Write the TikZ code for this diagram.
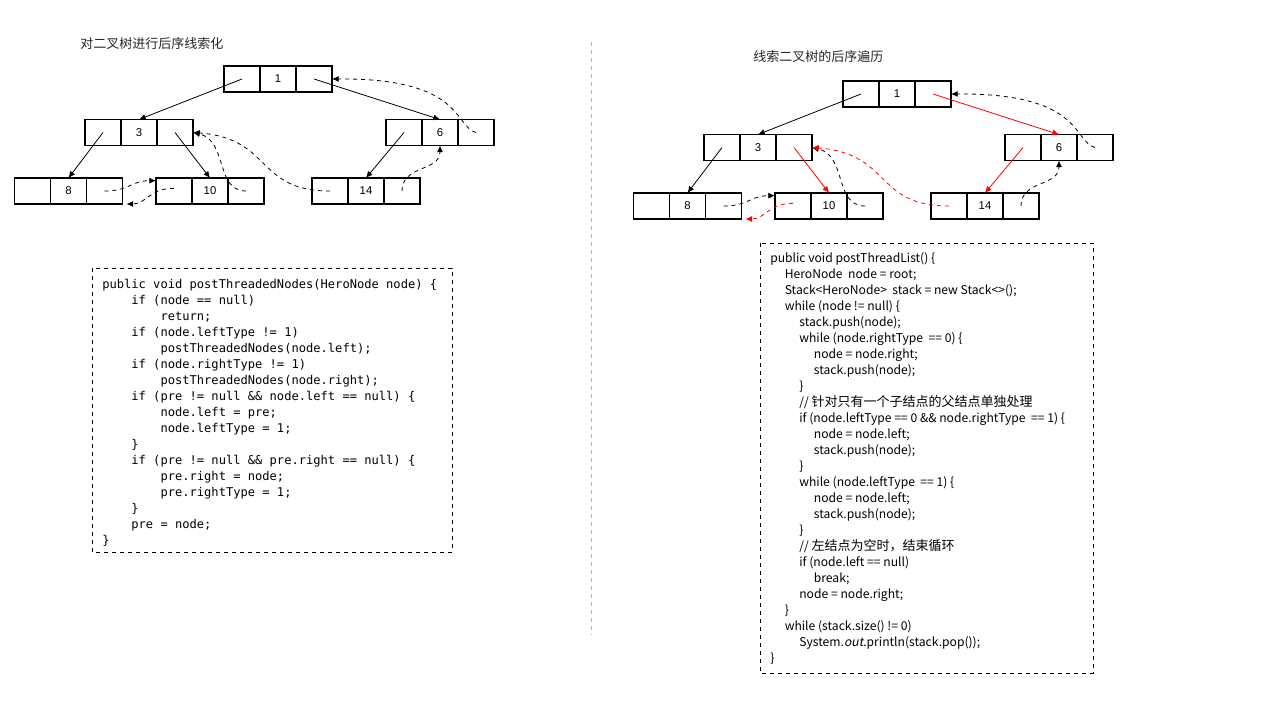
\documentclass[tikz,border=0pt]{standalone}
\usepackage{fontspec}
\setmainfont{Liberation Sans}
\newfontfamily\cjk{Noto Sans CJK SC}[AutoFakeSlant=0.2]
\newfontfamily\codemono{DejaVu Sans Mono}
\usetikzlibrary{positioning,arrows.meta}

\tikzset{
  cell/.style={draw,line width=0.8pt,minimum width=27pt,minimum height=19.5pt,inner sep=0pt,outer sep=0pt,font=\fontsize{8.5pt}{10pt}\selectfont},
  link/.style={line width=0.6pt,-{Latex[length=5pt,width=4.5pt]}},
  thread/.style={link,dashed},
  title/.style={inner sep=0pt,anchor=west,text=black!85,font=\cjk\fontsize{9.75pt}{12pt}\selectfont},
  frame/.style={dashed,line width=0.6pt},
}
\newcommand{\listnode}[4]{%
  \node[cell] (#1) at (#2,#3) {#4};
  \node[cell,left=0pt of #1] (#1-l) {};
  \node[cell,right=0pt of #1] (#1-r) {};
}
\newcommand{\lv}[1]{\hspace*{#1\dimexpr 10.9pt\relax}}
\newcommand{\zh}[1]{{\fontsize{9.75pt}{12pt}\selectfont #1}}

\begin{document}
\begin{tikzpicture}[x=0.75pt,y=-0.75pt]
 \fill[white] (0,0) rectangle (1280,720);
 \useasboundingbox (0,0) rectangle (1280,720);

 \node[title] (titleA) at (80,44) {对二叉树进行后序线索化};
 \node[title] (titleB) at (753,57) {线索二叉树的后序遍历};
 \draw[dashed,gray!55,line width=0.6pt] (591,42) -- (591,635);

 \listnode{a1}{278}{79}{1}
 \listnode{a3}{139}{132.5}{3}
 \listnode{a6}{440}{132.5}{6}
 \listnode{a8}{68.5}{191}{8}
 \listnode{a10}{210}{191}{10}
 \listnode{a14}{366}{191}{14}

 \draw[link] (a1-l.center) -- (a3.north);
 \draw[link] (a1-r.center) -- (a6.north);
 \draw[link] (a3-l.center) -- (a8.north);
 \draw[link] (a3-r.center) -- (a10.north);
 \draw[link] (a6-l.center) -- (a14.north);
 \draw[thread] (a8-r.center) .. controls +(25,0) and +(-25,0) .. ([yshift=-2pt]a10-l.north west);
 \draw[thread] ([yshift=2pt]a10-l.center) .. controls +(-25,0) and +(20,0) .. ([xshift=3pt]a8-r.south east);
 \draw[thread] (a10-r.center) .. controls +(-31,0) and +(35,8) .. (a3-r.east);
 \draw[thread] (a14-l.center) .. controls +(-75,0) and +(80,6) .. (a3-r.east);
 \draw[thread] (a14-r.center) .. controls +(0,-26) and +(0,26) .. (a6.south);
 \draw[thread] (a6-r.center) .. controls +(-22,-6) and +(132,-1) .. (a1-r.east);

 \listnode{b1}{897}{94}{1}
 \listnode{b3}{758}{147.5}{3}
 \listnode{b6}{1059}{147.5}{6}
 \listnode{b8}{687.5}{206}{8}
 \listnode{b10}{829}{206}{10}
 \listnode{b14}{985}{206}{14}

 \draw[link] (b1-l.center) -- (b3.north);
 \draw[link,red] (b1-r.center) -- (b6.north);
 \draw[link] (b3-l.center) -- (b8.north);
 \draw[link,red] (b3-r.center) -- (b10.north);
 \draw[link,red] (b6-l.center) -- (b14.north);
 \draw[thread] (b8-r.center) .. controls +(25,0) and +(-25,0) .. ([yshift=-2pt]b10-l.north west);
 \draw[thread,red] ([yshift=2pt]b10-l.center) .. controls +(-25,0) and +(20,0) .. ([xshift=3pt]b8-r.south east);
 \draw[thread] (b10-r.center) .. controls +(-31,0) and +(35,8) .. (b3-r.east);
 \draw[thread,red] (b14-l.center) .. controls +(-75,0) and +(80,6) .. (b3-r.east);
 \draw[thread] (b14-r.center) .. controls +(0,-26) and +(0,26) .. (b6.south);
 \draw[thread] (b6-r.center) .. controls +(-22,-6) and +(132,-1) .. (b1-r.east);

 \draw[frame] (92,268) rectangle (452,552);
 \node[anchor=north west,inner sep=0pt,align=left,font=\codemono\fontsize{9.07pt}{12pt}\selectfont] (codeA) at (102,279) {%
public void postThreadedNodes(HeroNode node) \{\\
~~~~if (node == null)\\
~~~~~~~~return;\\
~~~~if (node.leftType != 1)\\
~~~~~~~~postThreadedNodes(node.left);\\
~~~~if (node.rightType != 1)\\
~~~~~~~~postThreadedNodes(node.right);\\
~~~~if (pre != null \&\& node.left == null) \{\\
~~~~~~~~node.left = pre;\\
~~~~~~~~node.leftType = 1;\\
~~~~\}\\
~~~~if (pre != null \&\& pre.right == null) \{\\
~~~~~~~~pre.right = node;\\
~~~~~~~~pre.rightType = 1;\\
~~~~\}\\
~~~~pre = node;\\
\}};

 \draw[frame] (760,243) rectangle (1093,673);
 \node[anchor=north west,inner sep=0pt,align=left,font=\cjk\fontsize{9.1pt}{12pt}\selectfont] (codeB) at (770,252) {%
public void postThreadList() \{\\
\lv1HeroNode~ node = root;\\
\lv1Stack<HeroNode>~ stack = new Stack<>();\\
\lv1while (node != null) \{\\
\lv2stack.push(node);\\
\lv2while (node.rightType~ == 0) \{\\
\lv3node = node.right;\\
\lv3stack.push(node);\\
\lv2\}\\
\lv2// \zh{针对只有一个子结点的父结点单独处理}\\
\lv2if (node.leftType == 0 \&\& node.rightType~ == 1) \{\\
\lv3node = node.left;\\
\lv3stack.push(node);\\
\lv2\}\\
\lv2while (node.leftType~ == 1) \{\\
\lv3node = node.left;\\
\lv3stack.push(node);\\
\lv2\}\\
\lv2// \zh{左结点为空时，结束循环}\\
\lv2if (node.left == null)\\
\lv3break;\\
\lv2node = node.right;\\
\lv1\}\\
\lv1while (stack.size() != 0)\\
\lv2System.\textit{out}.println(stack.pop());\\
\}};
\end{tikzpicture}
\end{document}
